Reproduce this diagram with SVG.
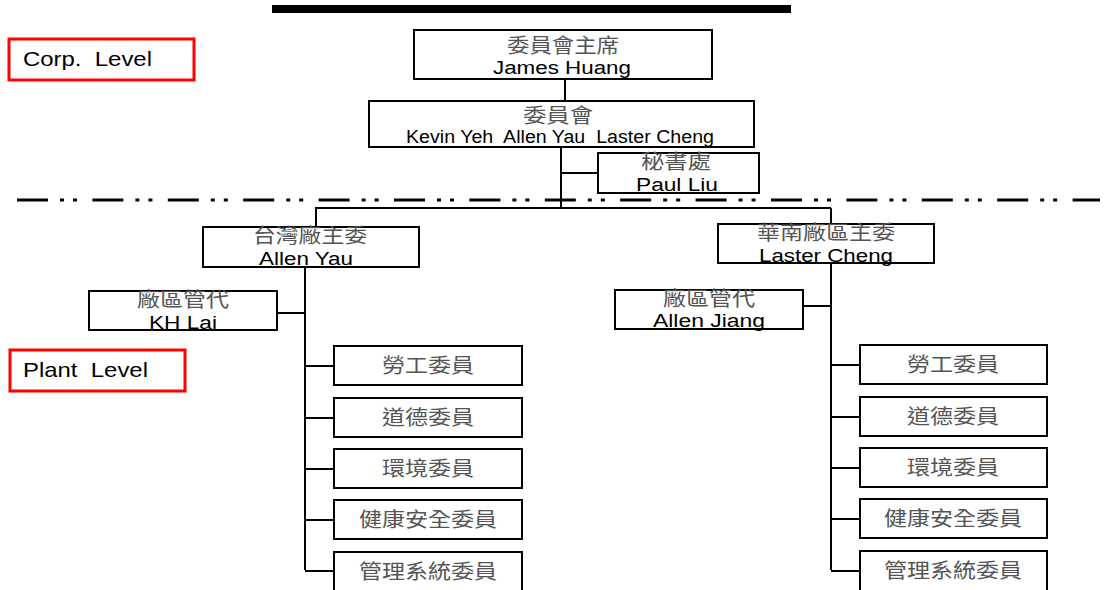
<svg xmlns="http://www.w3.org/2000/svg" width="1115" height="590" viewBox="0 0 1115 590">
<style>
.box{fill:#fff;stroke:#000;stroke-width:2}
.lvl{fill:#fff;stroke:#f00;stroke-width:3}
.en{font-family:"Liberation Sans",Arial,sans-serif;font-size:18px;fill:#000;text-anchor:middle}
.lv{font-family:"Liberation Sans",Arial,sans-serif;font-size:21px;fill:#000}
.zh{font-family:"Noto Sans CJK TC","Noto Sans CJK SC",sans-serif;font-size:20px;fill:#555;text-anchor:middle}
.ln{fill:none;stroke:#000;stroke-width:2}
</style>
<rect x="272" y="5" width="519" height="8" fill="#000"/>
<line x1="17" y1="200" x2="1100" y2="200" stroke="#000" stroke-width="3" stroke-dasharray="31 12 4 9 4 15.4"/>
<g id="connectors">
<path class="ln" d="M565 79V102"/>
<path class="ln" d="M561 147V208M561 173H598"/>
<path class="ln" d="M315 208H831M316 208V227M831 208V224"/>
<path class="ln" d="M305 267V570M277 313H305M305 366H334M305 418H334M305 469H334M305 520H334M305 571H334"/>
<path class="ln" d="M831 263V570M803 306H831M831 365H860M831 417H860M831 468H860M831 519H860M831 571H860"/>
</g>
<g id="corp-level"><rect class="lvl" x="9" y="39" width="185" height="41"/><text class="lv" x="23" y="66" xml:space="preserve" textLength="129" lengthAdjust="spacingAndGlyphs">Corp.  Level</text></g>
<g id="plant-level"><rect class="lvl" x="10" y="350" width="175" height="41"/><text class="lv" x="23" y="377" xml:space="preserve" textLength="125" lengthAdjust="spacingAndGlyphs">Plant  Level</text></g>
<g id="chairman"><rect class="box" x="414" y="30" width="298" height="49"/><text class="zh" x="563" y="53" font-size="19" textLength="112" lengthAdjust="spacingAndGlyphs">委員會主席</text><text class="en" x="562" y="74" font-size="19" textLength="138" lengthAdjust="spacingAndGlyphs">James Huang</text></g>
<g id="committee"><rect class="box" x="369" y="101" width="385" height="46"/><text class="zh" x="558" y="123" font-size="19" textLength="70" lengthAdjust="spacingAndGlyphs">委員會</text><text class="en" x="560" y="143" font-size="17" xml:space="preserve" textLength="308" lengthAdjust="spacingAndGlyphs">Kevin Yeh  Allen Yau  Laster Cheng</text></g>
<g id="secretariat"><rect class="box" x="598" y="153" width="161" height="40"/><text class="zh" x="676" y="168.5" textLength="70" lengthAdjust="spacingAndGlyphs">秘書處</text><text class="en" x="677" y="191" textLength="82" lengthAdjust="spacingAndGlyphs">Paul Liu</text></g>
<g id="tw-head"><rect class="box" x="203" y="227" width="216" height="40"/><text class="zh" x="310" y="243" textLength="114" lengthAdjust="spacingAndGlyphs">台灣廠主委</text><text class="en" x="306" y="265" textLength="94" lengthAdjust="spacingAndGlyphs">Allen Yau</text></g>
<g id="tw-rep"><rect class="box" x="89" y="291" width="188" height="39"/><text class="zh" x="183" y="307" textLength="92" lengthAdjust="spacingAndGlyphs">廠區管代</text><text class="en" x="183" y="329" textLength="68" lengthAdjust="spacingAndGlyphs">KH Lai</text></g>
<g id="tw-labor"><rect class="box" x="334" y="346" width="188" height="39"/><text class="zh" x="428" y="373" textLength="92" lengthAdjust="spacingAndGlyphs">勞工委員</text></g>
<g id="tw-ethics"><rect class="box" x="334" y="398" width="188" height="39"/><text class="zh" x="428" y="425" textLength="92" lengthAdjust="spacingAndGlyphs">道德委員</text></g>
<g id="tw-env"><rect class="box" x="334" y="449" width="188" height="39"/><text class="zh" x="428" y="476" textLength="92" lengthAdjust="spacingAndGlyphs">環境委員</text></g>
<g id="tw-hs"><rect class="box" x="334" y="500" width="188" height="39"/><text class="zh" x="428" y="527" textLength="138" lengthAdjust="spacingAndGlyphs">健康安全委員</text></g>
<g id="tw-ms"><rect class="box" x="334" y="552" width="188" height="40"/><text class="zh" x="428" y="579" textLength="138" lengthAdjust="spacingAndGlyphs">管理系統委員</text></g>
<g id="sc-head"><rect class="box" x="718" y="224" width="216" height="39"/><text class="zh" x="826" y="240" textLength="138" lengthAdjust="spacingAndGlyphs">華南廠區主委</text><text class="en" x="826" y="262" textLength="134" lengthAdjust="spacingAndGlyphs">Laster Cheng</text></g>
<g id="sc-rep"><rect class="box" x="615" y="290" width="188" height="39"/><text class="zh" x="709" y="306" textLength="92" lengthAdjust="spacingAndGlyphs">廠區管代</text><text class="en" x="709" y="327" textLength="112" lengthAdjust="spacingAndGlyphs">Allen Jiang</text></g>
<g id="sc-labor"><rect class="box" x="860" y="345" width="187" height="39"/><text class="zh" x="953" y="372" textLength="92" lengthAdjust="spacingAndGlyphs">勞工委員</text></g>
<g id="sc-ethics"><rect class="box" x="860" y="397" width="187" height="39"/><text class="zh" x="953" y="424" textLength="92" lengthAdjust="spacingAndGlyphs">道德委員</text></g>
<g id="sc-env"><rect class="box" x="860" y="448" width="187" height="39"/><text class="zh" x="953" y="475" textLength="92" lengthAdjust="spacingAndGlyphs">環境委員</text></g>
<g id="sc-hs"><rect class="box" x="860" y="499" width="187" height="39"/><text class="zh" x="953" y="526" textLength="138" lengthAdjust="spacingAndGlyphs">健康安全委員</text></g>
<g id="sc-ms"><rect class="box" x="860" y="551" width="187" height="41"/><text class="zh" x="953" y="578" textLength="138" lengthAdjust="spacingAndGlyphs">管理系統委員</text></g>
</svg>
